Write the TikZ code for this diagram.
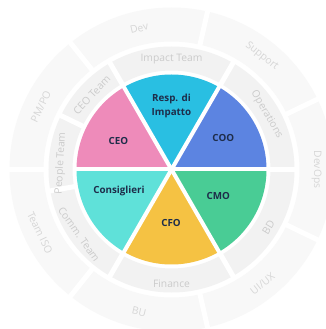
\documentclass[tikz,border=0pt]{standalone}
\usepackage{fontspec}
\setmainfont{Open Sans}
\definecolor{outerc}{HTML}{F8F8F8}
\definecolor{midc}{HTML}{F2F2F2}
\definecolor{outtext}{HTML}{D6D6D6}
\definecolor{midtext}{HTML}{CBCBCB}
\definecolor{labtext}{HTML}{1E2D4A}
\definecolor{ccyan}{HTML}{29BFE2}
\definecolor{cblue}{HTML}{5C84E1}
\definecolor{cpink}{HTML}{EE8BBA}
\definecolor{cturq}{HTML}{5FE1D9}
\definecolor{cyell}{HTML}{F5C243}
\definecolor{cgreen}{HTML}{49CC95}
\tikzset{
  pielab/.style={text=labtext,font=\fontsize{9.8pt}{13.4pt}\selectfont\bfseries,align=center,inner sep=0pt},
  midlab/.style={text=midtext,font=\fontsize{10.3pt}{12pt}\selectfont,inner sep=0pt},
  outlab/.style={text=outtext,font=\fontsize{10.3pt}{12pt}\selectfont,inner sep=0pt},
  gapline/.style={white,line width=5pt},
  piegap/.style={white,line width=4pt}
}
\newcommand{\piesector}[3]{\fill[#1] (0,0) -- (#2:95pt) arc[start angle=#2,end angle=#3,radius=95pt] -- cycle;}
\begin{document}
\begin{tikzpicture}[x=1pt,y=1pt]
\useasboundingbox (-171.5,-159.5) rectangle (153.5,169.5);
\fill[white] (-171.5,-159.5) rectangle (153.5,169.5);
\coordinate (c) at (0,0);
% outer ring
\fill[outerc,even odd rule] (c) circle (162pt) (c) circle (128pt);
% middle ring
\fill[midc,even odd rule] (c) circle (123pt) (c) circle (99pt);
% gaps in rings
\foreach \a in {0,60,120,154,190,240,300}
  \draw[gapline] (\a:97pt) -- (\a:125pt);
\foreach \k in {0,...,6}
  \draw[gapline] ({180+\k*360/7}:126pt) -- ({180+\k*360/7}:166pt);
% pie
\piesector{cblue}{0}{60}
\piesector{ccyan}{60}{120}
\piesector{cpink}{120}{180}
\piesector{cturq}{180}{240}
\piesector{cyell}{240}{300}
\piesector{cgreen}{300}{360}
\foreach \a in {0,60,...,300}
  \draw[piegap] (c) -- (\a:97pt);
% pie labels
\node[pielab] (resp) at (0,63.5) {Resp. di\\Impatto};
\node[pielab] (coo) at (51.8,31.8) {COO};
\node[pielab] (ceo) at (-53.2,28.8) {CEO};
\node[pielab] (cons) at (-52.5,-21.2) {Consiglieri};
\node[pielab] (cfo) at (-0.5,-53.8) {CFO};
\node[pielab] (cmo) at (46.8,-26.2) {CMO};
% middle ring labels
\node[midlab,rotate=-60] (ops) at (30:110pt) {Operations};
\node[midlab] (imp) at (90:110pt) {Impact Team};
\node[midlab,rotate=47] (ceot) at (137:109pt) {CEO Team};
\node[midlab,rotate=86.7] (peop) at (176.7:111pt) {People Team};
\node[midlab,rotate=-55] (comm) at (215:113pt) {Comm. Team};
\node[midlab] (fin) at (270:114pt) {Finance};
\node[midlab,rotate=59] (bd) at (329:113pt) {BD};
% outer ring labels
\node[outlab,rotate={102.857-90}] (dev) at (102.857:145pt) {Dev};
\node[outlab,rotate={51.429-90}] (sup) at (51.429:145pt) {Support};
\node[outlab,rotate=-90] (devops) at (0:145pt) {DevOps};
\node[outlab,rotate={308.571+90}] (uiux) at (308.571:146pt) {UI/UX};
\node[outlab,rotate={257.143+90}] (bu) at (257.143:146pt) {BU};
\node[outlab,rotate={205.714+90}] (iso) at (205.714:146pt) {Team ISO};
\node[outlab,rotate={154.286-90}] (pmpo) at (154.286:145pt) {PM/PO};
\end{tikzpicture}
\end{document}
